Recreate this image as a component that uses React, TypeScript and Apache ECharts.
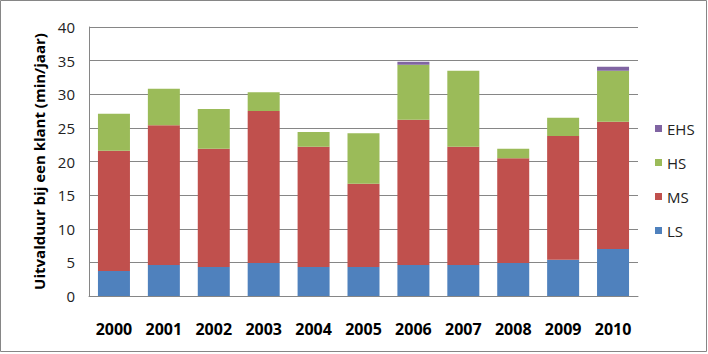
import React, { useEffect, useRef } from "react";
import * as echarts from "echarts";

const years = ["2000", "2001", "2002", "2003", "2004", "2005", "2006", "2007", "2008", "2009", "2010"];
const LS = [3.7, 4.6, 4.3, 4.9, 4.3, 4.3, 4.6, 4.6, 4.9, 5.4, 7.0];
const MS = [17.9, 20.8, 17.6, 22.6, 17.9, 12.4, 21.6, 17.6, 15.6, 18.4, 18.9];
const HS = [5.5, 5.4, 5.9, 2.8, 2.2, 7.5, 8.2, 11.3, 1.4, 2.7, 7.6];
const EHS = [0, 0, 0, 0, 0, 0, 0.45, 0, 0, 0, 0.6];
const legendOrder = ["EHS", "HS", "MS", "LS"];

const FONT = "Open Sans";

export default function App() {
  const ref = useRef<HTMLDivElement>(null);
  useEffect(() => {
    document.body.style.margin = "0";
    const chart = echarts.init(ref.current!, undefined, { renderer: "svg" });
    const mk = (name: string, data: number[], color: string) => ({
      name,
      type: "bar",
      stack: "total",
      data,
      barWidth: 32,
      itemStyle: { color },
    });
    chart.setOption({
      animation: false,
      textStyle: { fontFamily: FONT },
      graphic: [
        {
          type: "rect",
          shape: { x: 0.5, y: 0.5, width: 706, height: 351 },
          style: { fill: "none", stroke: "#868686", lineWidth: 1 },
          silent: true,
        },
      ],
      grid: { left: 89, right: 70, top: 27, bottom: 58 },
      legend: {
        orient: "vertical",
        left: 650,
        top: 116,
        itemWidth: 7,
        itemHeight: 7,
        itemGap: 19,
        icon: "rect",
        data: legendOrder,
        textStyle: { fontFamily: FONT, fontSize: 15, color: "#222", lineHeight: 15 },
      },
      xAxis: {
        type: "category",
        data: years,
        axisTick: { show: false },
        axisLine: { lineStyle: { color: "#868686" } },
        axisLabel: { fontFamily: FONT, fontSize: 16, fontWeight: "bold", color: "#000", margin: 25 },
      },
      yAxis: {
        type: "value",
        min: 0,
        max: 40,
        interval: 5,
        name: "Uitvalduur bij een klant (min/jaar)",
        nameLocation: "middle",
        nameGap: 40,
        nameTextStyle: { fontFamily: FONT, fontSize: 15, fontWeight: "bold", color: "#000" },
        axisLine: { show: true, lineStyle: { color: "#868686" } },
        axisTick: { show: false },
        splitLine: { lineStyle: { color: "#868686" } },
        axisLabel: { fontFamily: FONT, fontSize: 15, color: "#222", margin: 14 },
      },
      series: [
        mk("LS", LS, "#4F81BD"),
        mk("MS", MS, "#C0504D"),
        mk("HS", HS, "#9BBB59"),
        mk("EHS", EHS, "#8064A2"),
      ],
    });
    return () => chart.dispose();
  }, []);
  return <div ref={ref} style={{ width: 708, height: 354 }} />;
}
